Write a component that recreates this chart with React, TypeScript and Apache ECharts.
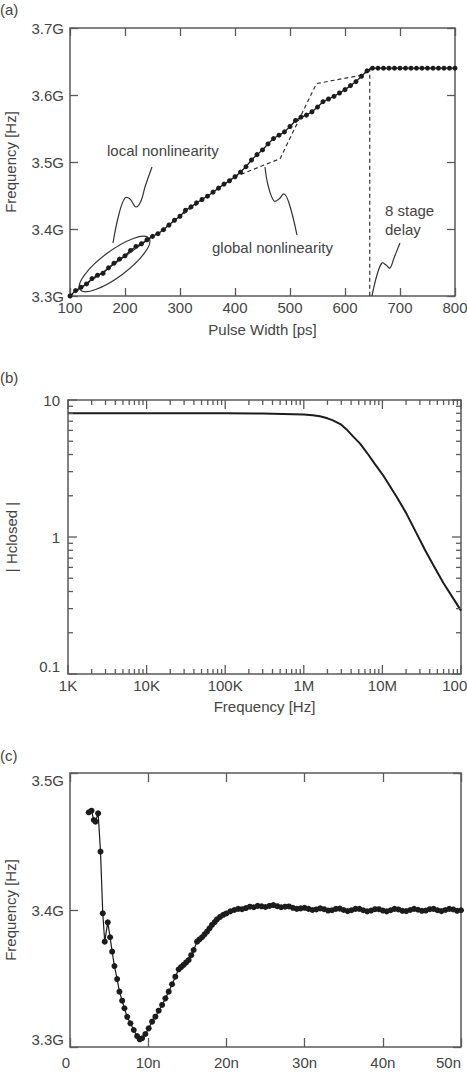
import React, { useEffect, useRef } from 'react';
import * as echarts from 'echarts';

// ---------- (a) frequency vs pulse width ----------
const pulseWidthPs = [
  100, 110, 120, 130, 140, 150, 160, 170, 180, 190,
  200, 210, 220, 230, 240, 250, 260, 270, 280, 290,
  300, 310, 320, 330, 340, 350, 360, 370, 380, 390,
  400, 410, 420, 430, 440, 450, 460, 470, 480, 490,
  500, 510, 520, 530, 540, 550, 560, 570, 580, 590,
  600, 610, 620, 630, 640, 650, 660, 670, 680, 690,
  700, 710, 720, 730, 740, 750, 760, 770, 780, 790, 800,
];
const measuredFreqGHz = [
  3.300, 3.308, 3.313, 3.318, 3.326, 3.331, 3.334, 3.342, 3.349, 3.355,
  3.360, 3.368, 3.374, 3.378, 3.384, 3.389, 3.393, 3.399, 3.406, 3.413,
  3.419, 3.428, 3.433, 3.439, 3.444, 3.449, 3.455, 3.461, 3.467, 3.472,
  3.478, 3.485, 3.493, 3.503, 3.511, 3.518, 3.527, 3.535, 3.540, 3.545,
  3.553, 3.562, 3.567, 3.570, 3.575, 3.582, 3.590, 3.594, 3.598, 3.603,
  3.608, 3.614, 3.620, 3.628, 3.636, 3.640, 3.640, 3.640, 3.640, 3.640,
  3.640, 3.640, 3.640, 3.640, 3.640, 3.640, 3.640, 3.640, 3.640, 3.640, 3.640,
];
const globalPs = [100, 400, 482, 548, 633, 645, 645];
const globalGHz = [3.300, 3.478, 3.505, 3.617, 3.630, 3.640, 3.300];
const aXTicks = [100, 800, 100];
const aYTicks = [3.3, 3.7, 0.1];

// ---------- (b) closed-loop transfer (log-log) ----------
const freqHz = [
  1e3, 1e4, 1e5, 3e5, 1e6, 1.3e6, 1.6e6, 2e6, 2.35e6, 3e6, 3.5e6, 4.2e6, 5.2e6, 6.6e6,
  8e6, 1.03e7, 1.25e7, 1.53e7, 2e7, 2.75e7, 3.5e7, 4.4e7, 6e7, 8e7, 1e8,
];
const hClosed = [
  8.0, 8.0, 8.0, 7.98, 7.85, 7.75, 7.6, 7.35, 7.1, 6.6, 6.1, 5.45, 4.8, 4.0,
  3.42, 2.8, 2.35, 1.95, 1.5, 1.05, 0.8, 0.63, 0.46, 0.355, 0.29,
];
const bDecadesX = [3, 4, 5, 6, 7, 8];
const bDecadesY = [-1, 0, 1];
const bXLabels: Record<number, string> = { 3: '1K', 4: '10K', 5: '100K', 6: '1M', 7: '10M', 8: '100M' };
const bYLabels: Record<number, string> = { [-1]: '0.1', 0: '1', 1: '10' };
const bMinorX = [
  2e3, 3e3, 4e3, 5e3, 6e3, 7e3, 8e3, 9e3,
  2e4, 3e4, 4e4, 5e4, 6e4, 7e4, 8e4, 9e4,
  2e5, 3e5, 4e5, 5e5, 6e5, 7e5, 8e5, 9e5,
  2e6, 3e6, 4e6, 5e6, 6e6, 7e6, 8e6, 9e6,
  2e7, 3e7, 4e7, 5e7, 6e7, 7e7, 8e7, 9e7,
];
const bMinorY = [0.2, 0.3, 0.4, 0.5, 0.6, 0.7, 0.8, 0.9, 2, 3, 4, 5, 6, 7, 8, 9];

// ---------- (c) settling transient ----------
const vcoSettling: [number, number][] = [
  [2.40, 3.4713], [2.75, 3.4725], [3.04, 3.4657], [3.26, 3.4645], [3.60, 3.4706],
  [3.90, 3.4426], [4.19, 3.3976], [4.44, 3.3769], [4.83, 3.3910], [5.13, 3.3801],
  [5.39, 3.3696], [5.68, 3.3591], [6.03, 3.3496], [6.32, 3.3404], [6.67, 3.3338],
  [6.96, 3.3283], [7.31, 3.3220], [7.73, 3.3173], [8.15, 3.3124], [8.58, 3.3080],
  [8.91, 3.3056], [9.22, 3.3064], [9.64, 3.3095], [10.06, 3.3136], [10.50, 3.3185],
  [10.92, 3.3221], [11.34, 3.3265], [11.78, 3.3307], [12.20, 3.3355], [12.62, 3.3404],
  [13.05, 3.3458], [13.47, 3.3513], [13.90, 3.3567], [14.20, 3.3583], [14.53, 3.3599],
  [14.85, 3.3617], [15.17, 3.3635], [15.50, 3.3670], [15.81, 3.3708], [16.25, 3.3769],
  [16.55, 3.3785], [16.88, 3.3801], [17.20, 3.3822], [17.52, 3.3842], [17.84, 3.3866],
  [18.16, 3.3891], [18.50, 3.3912], [18.80, 3.3932], [19.2, 3.3950], [19.6, 3.3965],
  [20.0, 3.3975], [20.5, 3.3990], [21.0, 3.4000], [21.5, 3.4008], [22.0, 3.4006],
  [22.5, 3.4014], [23.0, 3.4024], [23.5, 3.4020], [24.0, 3.4030], [24.5, 3.4027],
  [25.0, 3.4022], [25.5, 3.4030], [26.0, 3.4036], [26.5, 3.4028], [27.0, 3.4020],
  [27.5, 3.4024], [28.0, 3.4026], [28.5, 3.4016], [29.0, 3.4008], [29.5, 3.4012],
  [30.0, 3.4016], [30.5, 3.4008], [31.0, 3.4000], [31.5, 3.4004], [32.0, 3.4012],
  [32.5, 3.4006], [33.0, 3.3996], [33.5, 3.3998], [34.0, 3.4008], [34.5, 3.4010],
  [35.0, 3.4000], [35.5, 3.3992], [36.0, 3.3998], [36.5, 3.4008], [37.0, 3.4008],
  [37.5, 3.3998], [38.0, 3.3990], [38.5, 3.3996], [39.0, 3.4006], [39.5, 3.4006],
  [40.0, 3.3996], [40.5, 3.3990], [41.0, 3.3998], [41.5, 3.4008], [42.0, 3.4004],
  [42.5, 3.3994], [43.0, 3.3992], [43.5, 3.4000], [44.0, 3.4008], [44.5, 3.4002],
  [45.0, 3.3994], [45.5, 3.3996], [46.0, 3.4006], [46.5, 3.4008], [47.0, 3.3998],
  [47.5, 3.3992], [48.0, 3.4000], [48.5, 3.4008], [49.0, 3.4004], [49.5, 3.3994],
  [50.0, 3.3998],
];
const cXTicks = [0, 50, 10];
const cYTicks = [3.3, 3.5, 0.1];

const FONT = '"Liberation Sans", Arial, Helvetica, sans-serif';
const TXT = '#444';
const AX = '#5a5a5a';
const INK = '#1c1c1c';
const FS = 15;
const lg = (v: number) => Math.log10(v);

const GRID_B = { left: 68, top: 400, width: 393, height: 274 };

function baseAxis(extra: any) {
  return {
    splitLine: { show: false },
    axisLine: { show: false, onZero: false },
    axisTick: { show: true, inside: true, length: 8, lineStyle: { color: AX, width: 1.3 } },
    axisLabel: { color: TXT, fontSize: FS, fontFamily: FONT },
    nameTextStyle: { color: TXT, fontSize: FS, fontFamily: FONT },
    ...extra,
  };
}
function mirrorAxis(extra: any) {
  return baseAxis({ ...extra, axisLabel: { show: false } });
}

export default function App() {
  const ref = useRef<HTMLDivElement>(null);
  useEffect(() => {
    if (!ref.current) return;
    const chart = echarts.init(ref.current, null, { renderer: 'svg' });
    const grid = {
      show: true, borderColor: AX, borderWidth: 1.5, backgroundColor: 'transparent',
      containLabel: false, outerBoundsMode: 'none',
    };

    const lineStyleAnn = { stroke: '#333', lineWidth: 1.2, fill: 'none' };
    const textEl = (text: string, x: number, y: number, align = 'left') => ({
      type: 'text',
      x,
      y,
      style: { text, fill: TXT, fontSize: FS, fontFamily: FONT, textAlign: align, textVerticalAlign: 'middle' },
    });

    const bx = [bDecadesX[0], bDecadesX[bDecadesX.length - 1]];
    const by = [bDecadesY[0], bDecadesY[bDecadesY.length - 1]];

    // linear mapping identical to panel (b)'s value axes (log10 space)
    const pxX = (xv: number) => GRID_B.left + ((xv - bx[0]) / (bx[1] - bx[0])) * GRID_B.width;
    const pxY = (yv: number) => GRID_B.top + ((by[1] - yv) / (by[1] - by[0])) * GRID_B.height;
    const tickStyle = { stroke: AX, lineWidth: 1.3, fill: 'none' };
    const ticks: any[] = [];
    const seg = (x1: number, y1: number, x2: number, y2: number) =>
      ticks.push({ type: 'polyline', z: 100, silent: true, shape: { points: [[x1, y1], [x2, y2]] }, style: tickStyle });
    const top = pxY(by[1]);
    const bottom = pxY(by[0]);
    const left = pxX(bx[0]);
    const right = pxX(bx[1]);
    const xTick = (xv: number, len: number) => {
      const x = pxX(xv);
      seg(x, top, x, top + len);
      seg(x, bottom, x, bottom - len);
    };
    const yTick = (yv: number, len: number) => {
      const y = pxY(yv);
      seg(left, y, left + len, y);
      seg(right, y, right - len, y);
    };
    bDecadesX.forEach((v) => xTick(v, 9));
    bMinorX.forEach((v) => xTick(lg(v), 5));
    bDecadesY.forEach((v) => yTick(v, 9));
    bMinorY.forEach((v) => yTick(lg(v), 5));

    chart.setOption({
      animation: false,
      backgroundColor: '#fff',
      grid: [
        { ...grid, left: 70, top: 28, width: 385, height: 268 },
        { ...grid, ...GRID_B },
        { ...grid, left: 70, top: 773, width: 391, height: 274 },
      ],
      xAxis: [
        baseAxis({
          gridIndex: 0, type: 'value', position: 'bottom', min: aXTicks[0], max: aXTicks[1], interval: aXTicks[2],
          name: 'Pulse Width [ps]', nameLocation: 'middle', nameGap: 26,
          axisLabel: { color: TXT, fontSize: FS, fontFamily: FONT, margin: 4 },
        }),
        mirrorAxis({ gridIndex: 0, type: 'value', position: 'top', min: aXTicks[0], max: aXTicks[1], interval: aXTicks[2] }),
        baseAxis({
          gridIndex: 1, type: 'value', position: 'bottom', min: bx[0], max: bx[1], interval: 1,
          name: 'Frequency [Hz]', nameLocation: 'middle', nameGap: 25,
          axisTick: { show: false },
          axisLabel: { color: TXT, fontSize: FS, fontFamily: FONT, margin: 4, formatter: (v: number) => bXLabels[Math.round(v)] ?? '' },
        }),
        baseAxis({
          gridIndex: 2, type: 'value', position: 'bottom', min: cXTicks[0], max: cXTicks[1], interval: cXTicks[2],
          axisTick: { show: true, inside: true, length: 9, lineStyle: { color: AX, width: 1.3 } },
          axisLabel: {
            color: TXT, fontSize: FS, fontFamily: FONT, margin: 8,
            alignMinLabel: 'right', alignMaxLabel: 'right',
            formatter: (v: number) => (v === 0 ? '0' : `${v}n`),
          },
        }),
        mirrorAxis({
          gridIndex: 2, type: 'value', position: 'top', min: cXTicks[0], max: cXTicks[1], interval: cXTicks[2],
          axisTick: { show: true, inside: true, length: 9, lineStyle: { color: AX, width: 1.3 } },
        }),
      ],
      yAxis: [
        baseAxis({
          gridIndex: 0, type: 'value', position: 'left', min: aYTicks[0], max: aYTicks[1], interval: aYTicks[2],
          name: 'Frequency [Hz]', nameLocation: 'middle', nameGap: 52,
          axisLabel: { color: TXT, fontSize: FS, fontFamily: FONT, margin: 6, formatter: (v: number) => `${v.toFixed(1)}G` },
        }),
        mirrorAxis({ gridIndex: 0, type: 'value', position: 'right', min: aYTicks[0], max: aYTicks[1], interval: aYTicks[2] }),
        baseAxis({
          gridIndex: 1, type: 'value', position: 'left', min: by[0], max: by[1], interval: 1,
          name: '| Hclosed |', nameLocation: 'middle', nameGap: 49,
          axisTick: { show: false },
          axisLabel: {
            color: TXT, fontSize: FS, fontFamily: FONT, margin: 8,
            verticalAlignMinLabel: 'bottom',
            formatter: (v: number) => bYLabels[Math.round(v)] ?? '',
          },
        }),
        baseAxis({
          gridIndex: 2, type: 'value', position: 'left', min: cYTicks[0], max: cYTicks[1], interval: cYTicks[2],
          name: 'Frequency [Hz]', nameLocation: 'middle', nameGap: 52,
          axisLabel: {
            color: TXT, fontSize: FS, fontFamily: FONT, margin: 6,
            verticalAlignMinLabel: 'bottom', verticalAlignMaxLabel: 'top',
            formatter: (v: number) => `${v.toFixed(1)}G`,
          },
        }),
        mirrorAxis({ gridIndex: 2, type: 'value', position: 'right', min: cYTicks[0], max: cYTicks[1], interval: cYTicks[2] }),
      ],
      series: [
        {
          type: 'line', xAxisIndex: 0, yAxisIndex: 0, silent: true,
          data: globalPs.map((x, i) => [x, globalGHz[i]]),
          showSymbol: false,
          lineStyle: { color: '#333', width: 1.2, type: [4, 3] },
          z: 1,
        },
        {
          type: 'line', xAxisIndex: 0, yAxisIndex: 0, silent: true,
          data: pulseWidthPs.map((x, i) => [x, measuredFreqGHz[i]]),
          symbol: 'circle', symbolSize: 5, showSymbol: true,
          itemStyle: { color: INK },
          lineStyle: { color: INK, width: 1.3 },
          z: 3,
        },
        {
          type: 'line', xAxisIndex: 2, yAxisIndex: 2, silent: true,
          data: freqHz.map((f, i) => [lg(f), lg(hClosed[i])]),
          showSymbol: false,
          lineStyle: { color: INK, width: 2 },
        },
        {
          type: 'line', xAxisIndex: 3, yAxisIndex: 3, silent: true,
          data: vcoSettling,
          symbol: 'circle', symbolSize: 6, showSymbol: true,
          itemStyle: { color: INK },
          lineStyle: { color: INK, width: 1.2 },
        },
      ],
      graphic: [
        textEl('(a)', 0, 9),
        textEl('(b)', 0, 377),
        textEl('(c)', 0, 755),
        textEl('local nonlinearity', 107, 150),
        textEl('global nonlinearity', 212, 247),
        textEl('8 stage', 385, 210),
        textEl('delay', 385, 229),
        {
          type: 'ellipse', x: 114.5, y: 264, rotation: 0.64,
          shape: { cx: 0, cy: 0, rx: 43, ry: 13 },
          style: { stroke: '#333', lineWidth: 1.2, fill: 'none' },
        },
        {
          type: 'polyline',
          shape: { points: [[113, 243], [119, 214], [125, 198], [130, 199], [136, 207], [141, 201], [145, 187], [152, 167]], smooth: 0.4 },
          style: lineStyleAnn,
        },
        {
          type: 'polyline',
          shape: { points: [[265, 167], [268, 185], [274, 201], [279, 199], [284, 194], [289, 203], [297, 235]], smooth: 0.4 },
          style: lineStyleAnn,
        },
        {
          type: 'polyline',
          shape: { points: [[372, 296], [377, 275], [382, 263], [386, 265], [390, 268], [394, 258], [400, 243]], smooth: 0.4 },
          style: lineStyleAnn,
        },
        ...ticks,
      ],
    });
    return () => chart.dispose();
  }, []);
  return (
    <div
      ref={ref}
      style={{ position: 'absolute', left: 0, top: 0, width: 467, height: 1077, background: '#fff' }}
    />
  );
}
